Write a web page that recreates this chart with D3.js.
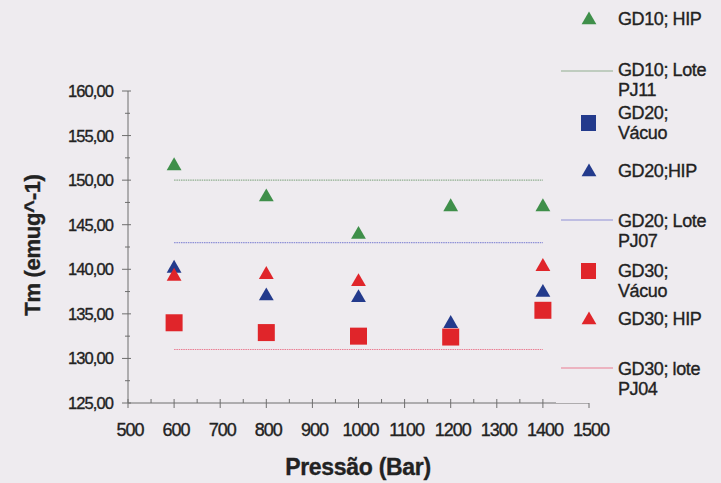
<!DOCTYPE html>
<html>
<head>
<meta charset="utf-8">
<script src="https://cdn.jsdelivr.net/npm/d3@7"></script>
<style>
  html, body { margin: 0; padding: 0; background: #eeebef; }
  svg { display: block; }
  text { font-family: "Liberation Sans", Arial, sans-serif; fill: #222; stroke: #222; stroke-width: 0.35px; }
</style>
</head>
<body>
<script>
// Pressure levels (Bar) and Tm values per series
const pressures = [600, 800, 1000, 1200, 1400];
const gd10Hip = [151.6, 148.1, 143.9, 147.0, 147.0];
const gd10LotePJ11 = 150;
const gd20Vacuo = [];
const gd20Hip = [140.1, 137.0, 136.8, 133.9, 137.4];
const gd20LotePJ07 = 143;
const gd30Vacuo = [134.0, 132.9, 132.5, 132.4, 135.4];
const gd30HipPressures = [600, 800, 1000, 1400];
const gd30Hip = [139.2, 139.4, 138.6, 140.3];
const gd30LotePJ04 = 131;

const xTicks = [500, 600, 700, 800, 900, 1000, 1100, 1200, 1300, 1400, 1500];
const yTicks = [125, 130, 135, 140, 145, 150, 155, 160];

const W = 721, H = 483;
const svg = d3.select("body").append("svg").attr("width", W).attr("height", H);
svg.append("rect").attr("width", W).attr("height", H).attr("fill", "#eeebef");

const x = d3.scaleLinear().domain([500, 1500]).range([128, 589]);
const y = d3.scaleLinear().domain([125, 160]).range([403, 91]);

const axisColor = "#6e6e6e";
const green = "#3f8f4a", blue = "#233a8c", red = "#e0252a";

// Y axis with minor ticks
const gy = svg.append("g");
gy.append("line").attr("x1", x(500)).attr("x2", x(500)).attr("y1", y(160)).attr("y2", y(125))
  .attr("stroke", axisColor);
d3.range(125, 160.01, 2.5).forEach(v => {
  const major = v % 5 === 0;
  gy.append("line").attr("x1", x(500) - (major ? 6 : 3)).attr("x2", x(500) + (major ? 3 : 2))
    .attr("y1", y(v)).attr("y2", y(v)).attr("stroke", axisColor);
});
gy.selectAll("text.yl").data(yTicks).join("text")
  .attr("x", 113).attr("y", d => y(d) + 6)
  .attr("text-anchor", "end").attr("font-size", 16.5).attr("letter-spacing", -0.9)
  .text(d => d3.format(".2f")(d).replace(".", ","));

// X axis with minor ticks
const gx = svg.append("g");
gx.append("line").attr("x1", x(500)).attr("x2", x(1500)).attr("y1", y(125)).attr("y2", y(125))
  .attr("stroke", axisColor);
d3.range(500, 1500.01, 50).forEach(v => {
  const major = v % 100 === 0;
  gx.append("line").attr("x1", x(v)).attr("x2", x(v))
    .attr("y1", y(125) - 4).attr("y2", y(125) + (major ? 5 : 0))
    .attr("stroke", axisColor);
});

// Reference lines (lots)
function refLine(v, color) {
  svg.append("line").attr("x1", x(600)).attr("x2", x(1400)).attr("y1", y(v)).attr("y2", y(v))
    .attr("stroke", color).attr("stroke-width", 1.2).attr("stroke-dasharray", "1.5,0.8");
}
refLine(gd10LotePJ11, "#8fae8f");
refLine(gd20LotePJ07, "#8d8fd6");
refLine(gd30LotePJ04, "#ea7d92");

const tri = d3.symbol().type(d3.symbolTriangle).size(95);
function triangles(xs, vs, color) {
  svg.append("g").selectAll("path").data(vs).join("path")
    .attr("d", tri)
    .attr("transform", (d, i) => `translate(${x(xs[i])},${y(d)})`)
    .attr("fill", color);
}
function squares(xs, vs, color) {
  svg.append("g").selectAll("rect").data(vs).join("rect")
    .attr("x", (d, i) => x(xs[i]) - 8.5).attr("y", d => y(d) - 8.5)
    .attr("width", 17).attr("height", 17).attr("fill", color);
}

triangles(pressures, gd10Hip, green);
squares(pressures, gd20Vacuo, blue);
triangles(pressures, gd20Hip, blue);
squares(pressures, gd30Vacuo, red);
triangles(gd30HipPressures, gd30Hip, red);

// Legend panel
const lg = svg.append("g");
lg.append("rect").attr("x", 556).attr("y", 0).attr("width", W - 556).attr("height", y(125))
  .attr("fill", "#eeebef");

const legendItems = [
  { kind: "tri", color: green, lines: ["GD10; HIP"], my: 20, ty: 25 },
  { kind: "line", color: "#8fae8f", lines: ["GD10; Lote", "PJ11"], my: 71, ty: 76 },
  { kind: "sq", color: blue, lines: ["GD20;", "Vácuo"], my: 123, ty: 119 },
  { kind: "tri", color: blue, lines: ["GD20;HIP"], my: 172, ty: 177 },
  { kind: "line", color: "#8d8fd6", lines: ["GD20; Lote", "PJ07"], my: 220, ty: 227 },
  { kind: "sq", color: red, lines: ["GD30;", "Vácuo"], my: 271, ty: 277 },
  { kind: "tri", color: red, lines: ["GD30; HIP"], my: 320, ty: 325 },
  { kind: "line", color: "#ea7d92", lines: ["GD30; lote", "PJ04"], my: 368, ty: 375 }
];
legendItems.forEach(it => {
  if (it.kind === "tri") {
    lg.append("path").attr("d", tri).attr("transform", `translate(589,${it.my})`).attr("fill", it.color);
  } else if (it.kind === "sq") {
    lg.append("rect").attr("x", 581).attr("y", it.my - 8).attr("width", 15).attr("height", 16).attr("fill", it.color);
  } else {
    lg.append("line").attr("x1", 561).attr("x2", 613).attr("y1", it.my).attr("y2", it.my)
      .attr("stroke", it.color).attr("stroke-width", 1.2);
  }
  it.lines.forEach((t, i) => {
    lg.append("text").attr("x", 618).attr("y", it.ty + i * 20)
      .attr("font-size", 18).attr("letter-spacing", -0.4).text(t);
  });
});

// X tick labels (drawn after the legend so 1500 stays visible)
svg.append("g").selectAll("text").data(xTicks).join("text")
  .attr("x", d => x(d) + 2).attr("y", 436)
  .attr("text-anchor", "middle").attr("font-size", 18).attr("letter-spacing", -1)
  .text(d => d);

// Axis titles
svg.append("text").attr("x", 358).attr("y", 475).attr("text-anchor", "middle")
  .attr("font-size", 23).attr("font-weight", "bold").attr("letter-spacing", -0.3)
  .text("Pressão (Bar)");
svg.append("text").attr("transform", "translate(40,245) rotate(-90)").attr("text-anchor", "middle")
  .attr("font-size", 22).attr("font-weight", "bold").attr("letter-spacing", -0.3)
  .text("Tm (emug^-1)");
</script>
</body>
</html>
